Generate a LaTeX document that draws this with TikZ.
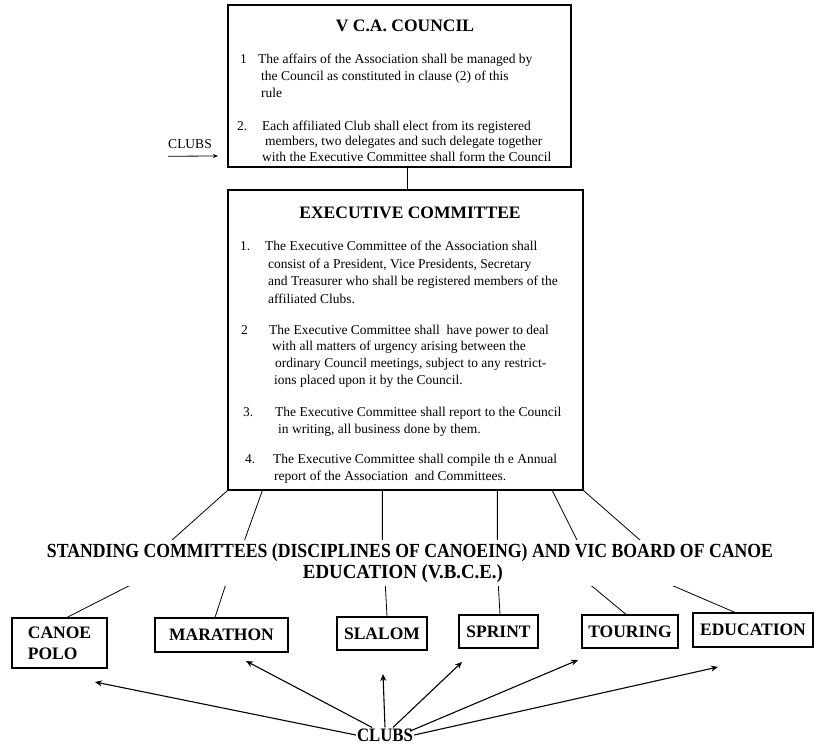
\documentclass[tikz,border=0pt]{standalone}
\usepackage{fontspec}
\usepackage{graphicx}
\setmainfont{Liberation Serif}
\usetikzlibrary{calc,arrows.meta}
\begin{document}
\begin{tikzpicture}[x=1pt,y=-1pt,
  box/.style={draw,line width=1.3pt,inner sep=0},
  txt/.style={font=\fontsize{13.5}{15}\selectfont,inner sep=0,anchor=base west},
  ttl/.style={font=\fontsize{17.5}{20}\selectfont\bfseries,inner sep=0,anchor=base},
  sub/.style={draw,line width=1.2pt,font=\fontsize{17.5}{21}\selectfont\bfseries,align=left,inner sep=0},
  link/.style={line width=0.8pt},
  arr/.style={line width=1.1pt,-{Stealth[length=7pt,width=6pt]}}]
\useasboundingbox (0,0) rectangle (824,745);
% ---- council box
\node[box,minimum width=343pt,minimum height=162pt] (council) at (399.5,86) {};
\node[ttl] (ctitle) at (405,31) {V C.A. COUNCIL};
\node[txt] (cn1) at (240,63) {1};
\node[txt] (c1a) at (258,63) {The affairs of the Association shall be managed by};
\node[txt] (c1b) at (261,80) {the Council as constituted in clause (2) of this};
\node[txt] (c1c) at (261,97) {rule};
\node[txt] (cn2) at (237,130) {2.};
\node[txt] (c2a) at (262,130) {Each affiliated Club shall elect from its registered};
\node[txt] (c2b) at (265,145) {members, two delegates and such delegate together};
\node[txt] (c2c) at (262,161) {with the Executive Committee shall form the Council};
% ---- left clubs
\node[font=\fontsize{13.5}{15}\selectfont,inner sep=0] (clubsL) at (190,144) {CLUBS};
\coordinate (clubsTip) at (218,156);
\draw[line width=0.8pt,-{Stealth[length=5pt,width=4pt]}] ($(clubsL.south west)+(0,7.5)$) -- (clubsTip);
% ---- executive box
\node[box,minimum width=355pt,minimum height=300pt] (exec) at (405.5,340) {};
\draw[link] ($(council.south)+(7.5,0)$) -- ($(exec.north)+(1.5,0)$);
\node[ttl] (etitle) at (410,218) {EXECUTIVE COMMITTEE};
\node[txt] (en1) at (240,250) {1.};
\node[txt] (e1a) at (265,250) {The Executive Committee of the Association shall};
\node[txt] (e1b) at (268,268) {consist of a President, Vice Presidents, Secretary};
\node[txt] (e1c) at (268,285) {and Treasurer who shall be registered members of the};
\node[txt] (e1d) at (268,303) {affiliated Clubs.};
\node[txt] (en2) at (241,334) {2};
\node[txt] (e2a) at (269,334) {The Executive Committee shall \ have power to deal};
\node[txt] (e2b) at (272,350) {with all matters of urgency arising between the};
\node[txt] (e2c) at (275,367) {ordinary Council meetings, subject to any restrict-};
\node[txt] (e2d) at (274,384) {ions placed upon it by the Council.};
\node[txt] (en3) at (243,416) {3.};
\node[txt] (e3a) at (275,416) {The Executive Committee shall report to the Council};
\node[txt] (e3b) at (278,433) {in writing, all business done by them.};
\node[txt] (en4) at (245,463) {4.};
\node[txt] (e4a) at (273,463) {The Executive Committee shall compile th e Annual};
\node[txt] (e4b) at (274,480) {report of the Association \ and Committees.};
% ---- standing committees
\node[sub,minimum width=95pt,minimum height=50pt] (polo) at (59.5,643) {CANOE\\POLO};
\node[sub,minimum width=133pt,minimum height=34pt] (marathon) at (221.5,635) {MARATHON};
\node[sub,minimum width=90pt,minimum height=33pt] (slalom) at (382,633.5) {SLALOM};
\node[sub,minimum width=79pt,minimum height=33pt] (sprint) at (498.5,631.5) {SPRINT};
\node[sub,minimum width=96pt,minimum height=33pt] (touring) at (630,631.5) {TOURING};
\node[sub,minimum width=120pt,minimum height=34pt] (education) at (753,630) {EDUCATION};
\draw[link] (exec.south west) -- ++(-56,50) -- ++(-42,45) -- ($(polo.north)+(7.5,0)$);
\draw[link] ($(exec.south west)+(35,0)$) -- ++(-18,50) -- ++(-19,45) -- ($(marathon.north)+(-6.5,0)$);
\draw[link] ($(exec.south west)+(155,0)$) -- ++(0,50) -- ++(3,45) -- ($(slalom.north)+(5,0)$);
\draw[link] ($(exec.south west)+(270,0)$) -- ++(0,50) -- ++(1,45) -- ($(sprint.north)+(1.5,0)$);
\draw[link] ($(exec.south west)+(325,0)$) -- ++(25,50) -- ++(14,45) -- ($(touring.north)+(-4,0)$);
\draw[link] (exec.south east) -- ++(57,50) -- ++(25,42) -- ($(education.north)+(-18,0)$);
\node[fill=white,inner xsep=4pt,inner ysep=3.5pt,align=center,font=\fontsize{20}{21}\selectfont\bfseries] (standing) at (410,563)
  {\resizebox{726pt}{\height}{STANDING COMMITTEES (DISCIPLINES OF CANOEING) AND VIC BOARD OF CANOE}\\
   \hspace*{-14pt}\resizebox{200pt}{\height}{EDUCATION (V.B.C.E.)}};
% ---- clubs bottom
\node[inner sep=1pt,font=\fontsize{19}{21}\selectfont\bfseries] (clubs) at (385,735) {\resizebox{56pt}{\height}{CLUBS}};
\coordinate (tPolo) at (95,682);
\coordinate (tMar) at (246,661);
\coordinate (tSla) at (383,674);
\coordinate (tSpr) at (462,662);
\coordinate (tTou) at (578,660);
\coordinate (tEdu) at (718,667);
\draw[arr] (clubs.west) -- (tPolo);
\draw[arr] ($(clubs.north)+(-13,0)$) -- (tMar);
\draw[arr] (clubs.north) -- (tSla);
\draw[arr] ($(clubs.north)+(8,0)$) -- (tSpr);
\draw[arr] ($(clubs.east)+(-4,-4)$) -- (tTou);
\draw[arr] (clubs.east) -- (tEdu);
\end{tikzpicture}
\end{document}
